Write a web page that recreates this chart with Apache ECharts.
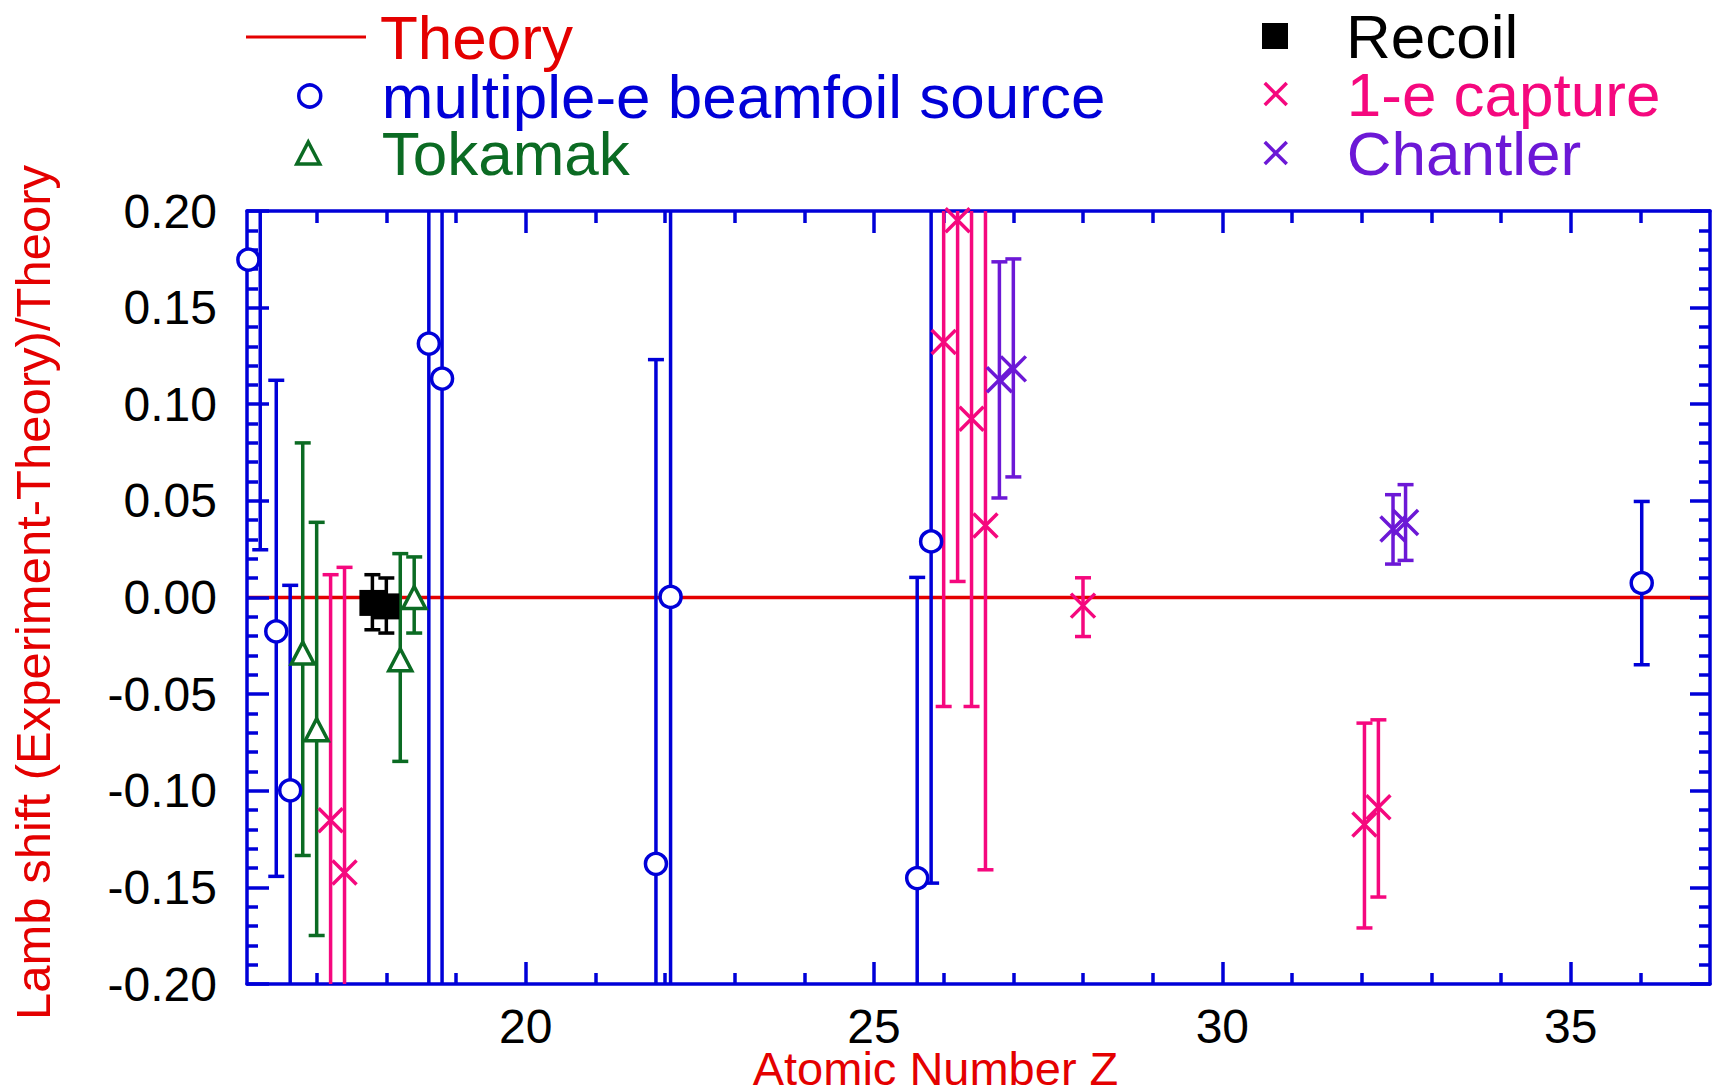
<!DOCTYPE html>
<html>
<head>
<meta charset="utf-8">
<script src="https://cdn.jsdelivr.net/npm/echarts@6/dist/echarts.min.js"></script>
<style>
html,body{margin:0;padding:0;background:#fff;}
#chart{width:1719px;height:1092px;}
</style>
</head>
<body>
<div id="chart"></div>
<script>
// ---------- tick values ----------
const xMajorTicks = [20, 25, 30, 35];
const xMinorTicks = [17, 18, 19, 21, 22, 23, 24, 26, 27, 28, 29, 31, 32, 33, 34, 36];
const yMajorTicks = [-0.20, -0.15, -0.10, -0.05, 0.00, 0.05, 0.10, 0.15, 0.20];
const yMinorTicks = [-0.19, -0.18, -0.17, -0.16, -0.14, -0.13, -0.12, -0.11, -0.09, -0.08, -0.07, -0.06,
  -0.04, -0.03, -0.02, -0.01, 0.01, 0.02, 0.03, 0.04, 0.06, 0.07, 0.08, 0.09,
  0.11, 0.12, 0.13, 0.14, 0.16, 0.17, 0.18, 0.19];

// ---------- data ----------
const theoryZ = [16, 37];
const theoryVal = [0, 0];

const beamfoilZ    = [16.02, 16.42, 16.62, 18.61, 18.80, 21.87, 22.08, 25.62, 25.82, 36.02];
const beamfoilVal  = [0.1748, -0.0175, -0.0998, 0.1314, 0.1133, -0.1378, 0.0003, -0.1452, 0.0290, 0.0075];
const beamfoilBarZ = [16.19, 16.42, 16.62, 18.61, 18.80, 21.87, 22.08, 25.62, 25.82, 36.02];
const beamfoilLow  = [0.0247, -0.1443, -0.2060, -0.2700, -0.2900, -0.4000, -0.3000, -0.3000, -0.1478, -0.0348];
const beamfoilHigh = [0.3250, 0.1124, 0.0063, 0.5300, 0.5200, 0.1231, 0.3000, 0.0104, 0.2060, 0.0497];

const tokamakZ    = [16.80, 17.00, 18.20, 18.40];
const tokamakVal  = [-0.0287, -0.0684, -0.0322, 0.0000];
const tokamakLow  = [-0.1335, -0.1749, -0.0848, -0.0184];
const tokamakHigh = [0.0800, 0.0389, 0.0227, 0.0210];

const recoilZ    = [17.80, 18.00];
const recoilVal  = [-0.0028, -0.0046];
const recoilLow  = [-0.0167, -0.0184];
const recoilHigh = [0.0118, 0.0101];

const captureZ    = [17.20, 17.40, 26.00, 26.20, 26.40, 26.60, 28.00, 32.04, 32.24];
const captureVal  = [-0.1153, -0.1423, 0.1322, 0.1952, 0.0925, 0.0372, -0.0042, -0.1175, -0.1085];
const captureLow  = [-0.2420, -0.3000, -0.0564, 0.0083, -0.0564, -0.1409, -0.0202, -0.1710, -0.1550];
const captureHigh = [0.0118, 0.0156, 0.3200, 0.3800, 0.2400, 0.2150, 0.0102, -0.0650, -0.0633];

const chantlerZ    = [26.80, 27.00, 32.45, 32.63];
const chantlerVal  = [0.1127, 0.1183, 0.0354, 0.0388];
const chantlerLow  = [0.0515, 0.0624, 0.0173, 0.0192];
const chantlerHigh = [0.1737, 0.1752, 0.0532, 0.0584];

// ---------- styling ----------
const FONT = "'Liberation Sans', Arial, Helvetica, sans-serif";
const BLUE = '#0000d8', RED = '#e40000', GREEN = '#0b6b23', PINK = '#f5087e', PURPLE = '#6c18d6', BLACK = '#000000';
const CROSS = 'path://M0,0L10,10M10,0L0,10';
const LW = 3.5;

function pairs(xs, ys) { return xs.map((x, i) => [x, ys[i]]); }
function bars(xs, lo, hi) { return xs.map((x, i) => [x, lo[i], hi[i]]); }

function errSeries(name, data, color) {
  return {
    type: 'custom', name: name, data: data, clip: true, z: 3, silent: true,
    encode: { x: 0, y: [1, 2] },
    renderItem: function (params, api) {
      const x = api.value(0), lo = api.value(1), hi = api.value(2);
      const a = api.coord([x, lo]);
      const b = api.coord([x, hi]);
      const w = 8;
      const st = { stroke: color, lineWidth: LW, fill: null };
      return {
        type: 'group',
        children: [
          { type: 'line', shape: { x1: a[0], y1: a[1], x2: b[0], y2: b[1] }, style: st },
          { type: 'line', shape: { x1: a[0] - w, y1: a[1], x2: a[0] + w, y2: a[1] }, style: st },
          { type: 'line', shape: { x1: b[0] - w, y1: b[1], x2: b[0] + w, y2: b[1] }, style: st }
        ]
      };
    }
  };
}

function xAx(pos, ticks, len, main) {
  return {
    type: 'value', position: pos, min: 16, max: 37, z: 2,
    axisLine: { show: main, onZero: false, lineStyle: { color: BLUE, width: LW } },
    axisTick: { show: true, inside: true, length: len, customValues: ticks, lineStyle: { color: BLUE, width: LW } },
    axisLabel: { show: false },
    splitLine: { show: false }
  };
}
function yAx(pos, ticks, len, main) {
  return {
    type: 'value', position: pos, min: -0.2, max: 0.2, z: 2,
    axisLine: { show: main, onZero: false, lineStyle: { color: BLUE, width: LW } },
    axisTick: { show: true, inside: true, length: len, customValues: ticks, lineStyle: { color: BLUE, width: LW } },
    axisLabel: { show: false },
    splitLine: { show: false }
  };
}

const xBottom = xAx('bottom', xMajorTicks, 22, true);
xBottom.axisLabel = { show: true, customValues: xMajorTicks, fontSize: 48, lineHeight: 40, color: '#000', margin: 22, fontFamily: FONT };
xBottom.name = 'Atomic Number Z';
xBottom.nameLocation = 'middle';
xBottom.nameGap = 64;
xBottom.nameMoveOverlap = false;
xBottom.nameTextStyle = { fontSize: 47, lineHeight: 40, color: RED, fontFamily: FONT, padding: [0, 86, 0, 0] };

const yLeft = yAx('left', yMajorTicks, 22, true);
yLeft.axisLabel = { show: true, customValues: yMajorTicks, fontSize: 48, color: '#000', margin: 30, fontFamily: FONT,
  formatter: function (v) { return v.toFixed(2); } };
yLeft.name = 'Lamb shift (Experiment-Theory)/Theory';
yLeft.nameLocation = 'middle';
yLeft.nameRotate = 90;
yLeft.nameGap = 190;
yLeft.nameTextStyle = { fontSize: 49, color: RED, fontFamily: FONT, padding: [0, 0, 0, 10] };

function leg(name, left, top, w, h, icon, itemStyle, color, pad) {
  return {
    show: true, orient: 'vertical', left: left, top: top, padding: 0, itemGap: 0,
    itemWidth: w, itemHeight: h, symbolKeepAspect: false, selectedMode: false,
    data: [{ name: name, icon: icon, itemStyle: itemStyle }],
    textStyle: { fontSize: 62, lineHeight: 44, color: color, fontFamily: FONT, padding: [0, 0, 0, pad] }
  };
}

const option = {
  animation: false,
  backgroundColor: '#ffffff',
  grid: { left: 247, right: 9, top: 211, bottom: 108, containLabel: false, outerBoundsMode: 'none' },
  xAxis: [
    xBottom,
    xAx('bottom', xMinorTicks, 11, false),
    xAx('top', xMajorTicks, 22, true),
    xAx('top', xMinorTicks, 12, false)
  ],
  yAxis: [
    yLeft,
    yAx('left', yMinorTicks, 11, false),
    yAx('right', yMajorTicks, 20, true),
    yAx('right', yMinorTicks, 11, false)
  ],
  legend: [
    leg('Theory', 246, 6, 120, 3, 'rect', { color: RED, borderWidth: 0 }, RED, 9),
    leg('multiple-e beamfoil source', 297, 65, 22, 22, 'circle', { color: '#fff', borderColor: BLUE, borderWidth: LW }, BLUE, 56),
    leg('Tokamak', 295, 122, 23, 22, 'triangle', { color: '#fff', borderColor: GREEN, borderWidth: LW }, GREEN, 57),
    leg('Recoil', 1262, 5, 26, 26, 'rect', { color: BLACK, borderWidth: 0 }, BLACK, 53),
    leg('1-e capture', 1263, 63, 22, 22, CROSS, { color: 'rgba(0,0,0,0)', borderColor: PINK, borderWidth: LW }, PINK, 55),
    leg('Chantler', 1263, 122, 22, 22, CROSS, { color: 'rgba(0,0,0,0)', borderColor: PURPLE, borderWidth: LW }, PURPLE, 55)
  ],
  series: [
    {
      type: 'line', name: 'Theory', data: pairs(theoryZ, theoryVal), symbol: 'none', z: 1, silent: true,
      lineStyle: { color: RED, width: 3.5 }, itemStyle: { color: RED }
    },
    errSeries('beamfoil error', bars(beamfoilBarZ, beamfoilLow, beamfoilHigh), BLUE),
    errSeries('tokamak error', bars(tokamakZ, tokamakLow, tokamakHigh), GREEN),
    errSeries('recoil error', bars(recoilZ, recoilLow, recoilHigh), BLACK),
    errSeries('capture error', bars(captureZ, captureLow, captureHigh), PINK),
    errSeries('chantler error', bars(chantlerZ, chantlerLow, chantlerHigh), PURPLE),
    {
      type: 'scatter', name: 'multiple-e beamfoil source', data: pairs(beamfoilZ, beamfoilVal), clip: false, z: 4,
      symbol: 'circle', symbolSize: 21, itemStyle: { color: '#fff', borderColor: BLUE, borderWidth: LW, opacity: 1 }
    },
    {
      type: 'scatter', name: 'Tokamak', data: pairs(tokamakZ, tokamakVal), clip: false, z: 4,
      symbol: 'triangle', symbolSize: [23, 22], itemStyle: { color: '#fff', borderColor: GREEN, borderWidth: LW, opacity: 1 }
    },
    {
      type: 'scatter', name: 'Recoil', data: pairs(recoilZ, recoilVal), clip: false, z: 4,
      symbol: 'rect', symbolSize: 26, itemStyle: { color: BLACK, opacity: 1 }
    },
    {
      type: 'scatter', name: '1-e capture', data: pairs(captureZ, captureVal), clip: false, z: 4,
      symbol: CROSS, symbolSize: 24, itemStyle: { color: 'rgba(0,0,0,0)', borderColor: PINK, borderWidth: LW, opacity: 1 }
    },
    {
      type: 'scatter', name: 'Chantler', data: pairs(chantlerZ, chantlerVal), clip: false, z: 4,
      symbol: CROSS, symbolSize: 25, itemStyle: { color: 'rgba(0,0,0,0)', borderColor: PURPLE, borderWidth: LW, opacity: 1 }
    }
  ]
};

const chart = echarts.init(document.getElementById('chart'), null, { renderer: 'svg' });
chart.setOption(option);
</script>
</body>
</html>
